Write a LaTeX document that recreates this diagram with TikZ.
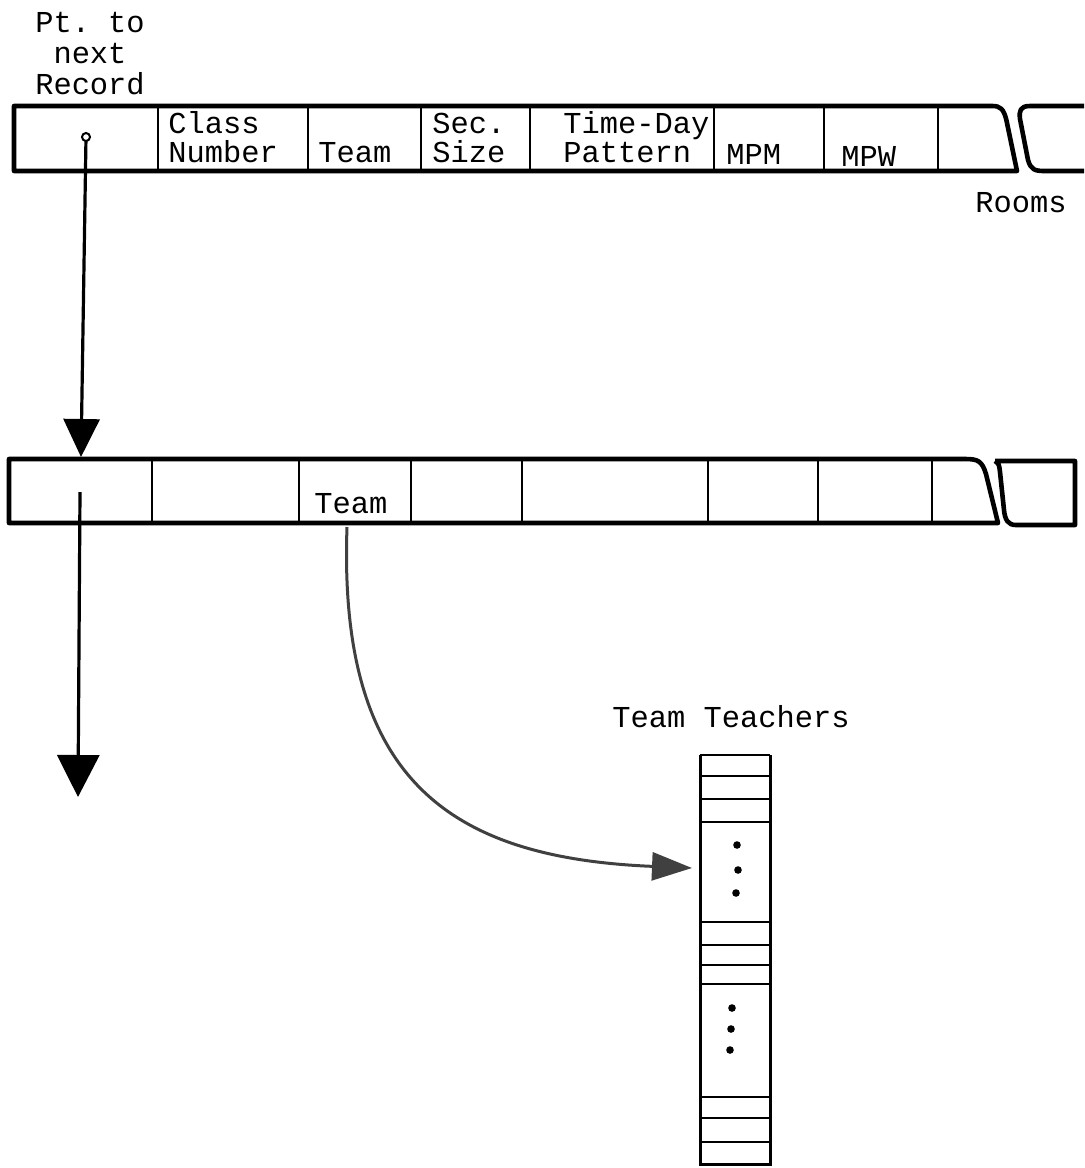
\documentclass[tikz,border=0pt]{standalone}
\usepackage{fontspec}
\setmonofont{Liberation Mono}
\usetikzlibrary{arrows.meta}

\begin{document}
\begin{tikzpicture}[x=0.5pt, y=-0.5pt,
  lbl/.style={font=\ttfamily\fontsize{15.2}{14.4}\selectfont, inner sep=0pt, align=left},
  recline/.style={line width=2.3pt, line join=round},
  cellsep/.style={line width=1pt},
  ptr/.style={line width=1.6pt, -{Triangle[length=19pt, width=18pt]}}]
  \useasboundingbox (0,0) rectangle (1084,1168);

  % First record
  \draw[recline] (992,106) -- (14,106) -- (14,171) -- (1017,171) -- (1007,123)
    .. controls (1004,108) and (1000,106) .. (992,106);
  \draw[recline] (1084,106) -- (1030,106) .. controls (1020,106) and (1019,111) .. (1020,119)
    -- (1028,160) .. controls (1031,170) and (1035,171) .. (1045,171) -- (1084,171);
  \foreach \x in {158, 308, 421, 530, 714, 824, 938} {
    \draw[cellsep] (\x,106) -- (\x,171);
  }

  % Field labels
  \node[lbl, align=center, anchor=base, font=\ttfamily\fontsize{15.2}{15.4}\selectfont] (ptlbl) at (90,94) {Pt. to\\next\\Record};
  \node[lbl, anchor=base west] (clsnum) at (168,162) {Class\\Number};
  \node[lbl, anchor=base west] (team1) at (318,162) {Team};
  \node[lbl, anchor=base west] (secsize) at (432,162) {Sec.\\Size};
  \node[lbl, anchor=base west] (timeday) at (563,162) {Time-Day\\Pattern};
  \node[lbl, anchor=base west] (mpm) at (726,164) {MPM};
  \node[lbl, anchor=base west] (mpw) at (841,166) {MPW};
  \node[lbl, anchor=base west] (rooms) at (975,212) {Rooms};

  % Second record
  \draw[recline] (965,459) -- (9,459) -- (9,523) -- (998,523) -- (986,474)
    .. controls (982,461) and (978,459) .. (965,459);
  \draw[recline] (995,461) -- (1075,461) -- (1075,525) -- (1016,525)
    .. controls (1008,525) and (1005,520) .. (1004,510) -- (1000,472)
    .. controls (999,464) .. (995,461);
  \foreach \x in {152, 299, 411, 522, 708, 818, 932} {
    \draw[cellsep] (\x,459) -- (\x,523);
  }
  \node[lbl, anchor=base west] (team2) at (314,513) {Team};

  % Pointers to next record
  \coordinate (ptr1) at (86,137);
  \coordinate (rec2top) at (81,457);
  \coordinate (ptr2) at (80,492);
  \coordinate (ptr2end) at (78,797);
  \draw[ptr] (ptr1) -- (rec2top);
  \draw[line width=1pt, fill=white] (ptr1) circle (2pt);
  \draw[ptr, -{Triangle[length=21pt, width=21pt]}] (ptr2) -- (ptr2end);

  % Team teachers list
  \node[lbl, anchor=base west] (teachlbl) at (612,727) {Team Teachers};
  \draw[line width=1.5pt] (700,755) -- (700,1164) -- (770,1164) -- (770,755);
  \foreach \y in {755, 776, 799, 945, 965, 1097, 1118, 1142} {
    \draw[line width=0.8pt] (700,\y) -- (770,\y);
  }
  \foreach \y in {822, 922, 984} {
    \draw[line width=1.4pt] (700,\y) -- (770,\y);
  }
  \foreach \p in {(737,845), (738,870), (736,893), (732,1008), (731,1029), (730,1050)} {
    \fill \p circle (1.9pt);
  }

  % Team pointer
  \coordinate (team2bot) at (347,527);
  \coordinate (colin) at (692,868);
  \draw[line width=1.5pt, black!75, -{Triangle[length=20pt, width=14pt]}]
    (team2bot) .. controls (338,780) and (450,858) .. (colin);
\end{tikzpicture}
\end{document}
